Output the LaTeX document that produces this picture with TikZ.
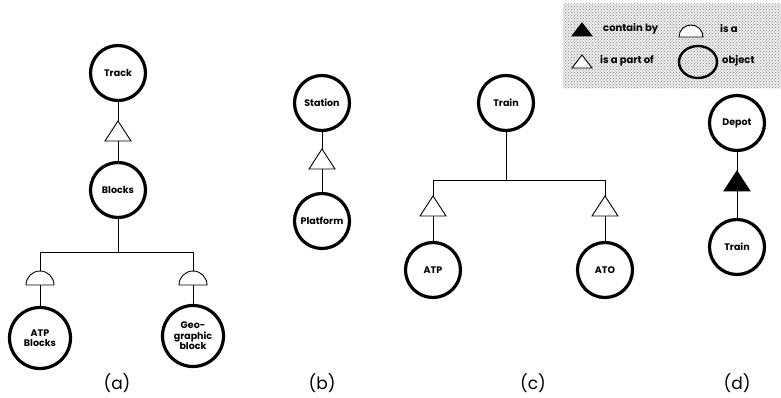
\documentclass[tikz,border=0pt]{standalone}
\usepackage{fontspec}
\setmainfont{Poppins}
\usetikzlibrary{patterns,calc}
\tikzset{
  obj/.style={circle,draw,line width=3.2pt,minimum size=55pt,inner sep=0pt,align=center,
     font=\bfseries\fontsize{9.5}{10.5}\selectfont},
  bigobj/.style={obj,minimum size=61pt},
  conn/.style={line width=0.9pt},
  sym/.style={line width=0.9pt,fill=white},
  lbl/.style={font=\fontsize{17}{17}\selectfont},
  legtxt/.style={anchor=west,inner sep=0pt,font=\bfseries\fontsize{10}{11}\selectfont}
}
\newcommand\ptri[2][white]{\draw[sym,fill=#1] ($(#2)+(-13,10)$) -- ($(#2)+(13,10)$) -- ($(#2)+(0,-10)$) -- cycle;}
\newcommand\ltri[2][white]{\draw[sym,fill=#1] ($(#2)+(-10,6)$) -- ($(#2)+(10,6)$) -- ($(#2)+(0,-7)$) -- cycle;}
\newcommand\dome[2][14]{\draw[sym] ($(#2)+(-#1,7)$) arc[start angle=180,end angle=360,radius=#1] -- cycle;}
\begin{document}
\begin{tikzpicture}[x=1pt,y=-1pt]
\useasboundingbox (0,0) rectangle (781,398);
% legend
\node[inner sep=0pt,minimum width=218pt,minimum height=84pt,anchor=north west] (legend) at (563,4) {};
\fill[black!8] (legend.north west) rectangle (legend.south east);
\fill[pattern=crosshatch dots,pattern color=black!45] (legend.north west) rectangle (legend.south east);
\coordinate (lt1) at (582,30);
\ltri[black]{lt1}
\node[legtxt] (lcont) at (603,29) {contain by};
\coordinate (ld1) at (691,30);
\dome[12]{ld1}
\node[legtxt] (lisa) at (720,29) {is a};
\coordinate (lt2) at (582,62);
\ltri{lt2}
\node[legtxt] (lpart) at (600,61) {is a part of};
\draw[line width=2.4pt] (698,62) ellipse[x radius=19,y radius=16];
\node[legtxt] (lobj) at (722,61) {object};
% (a)
\node[obj] (track) at (118,73) {Track};
\node[obj] (blocks) at (118,190) {Blocks};
\node[bigobj] (atpb) at (40,338) {ATP\\Blocks};
\node[bigobj] (geo) at (193,336) {Geo-\\graphic\\block};
\coordinate (barA) at (118,252);
\draw[conn] (track) -- (blocks);
\draw[conn] (blocks) -- (barA);
\draw[conn] (atpb) -- (atpb.north |- barA) -- (geo.north |- barA) -- (geo);
\coordinate (ta) at (118,131);
\ptri{ta}
\coordinate (da1) at (40,278);
\coordinate (da2) at (193,278);
\dome{da1}
\dome{da2}
\node[lbl] (la) at (117,383) {(a)};
% (b)
\node[obj] (station) at (322,103) {Station};
\node[obj] (platform) at (322,221) {Platform};
\draw[conn] (station) -- (platform);
\coordinate (tb) at (322,159);
\ptri{tb}
\node[lbl] (lb) at (322,383) {(b)};
% (c)
\node[obj] (trainc) at (506,103) {Train};
\node[obj] (atp) at (433,270) {ATP};
\node[obj] (ato) at (605,270) {ATO};
\coordinate (barC) at (506,180);
\draw[conn] (trainc) -- (barC);
\draw[conn] (atp) -- (atp.north |- barC) -- (ato.north |- barC) -- (ato);
\coordinate (tc1) at (433,206);
\coordinate (tc2) at (605,206);
\ptri{tc1}
\ptri{tc2}
\node[lbl] (lc) at (533,383) {(c)};
% (d)
\node[obj] (depot) at (737,123) {Depot};
\node[obj] (traind) at (737,247) {Train};
\draw[conn] (depot) -- (traind);
\coordinate (td) at (737,181);
\ptri[black]{td}
\node[lbl] (ld) at (737,383) {(d)};
\end{tikzpicture}
\end{document}
